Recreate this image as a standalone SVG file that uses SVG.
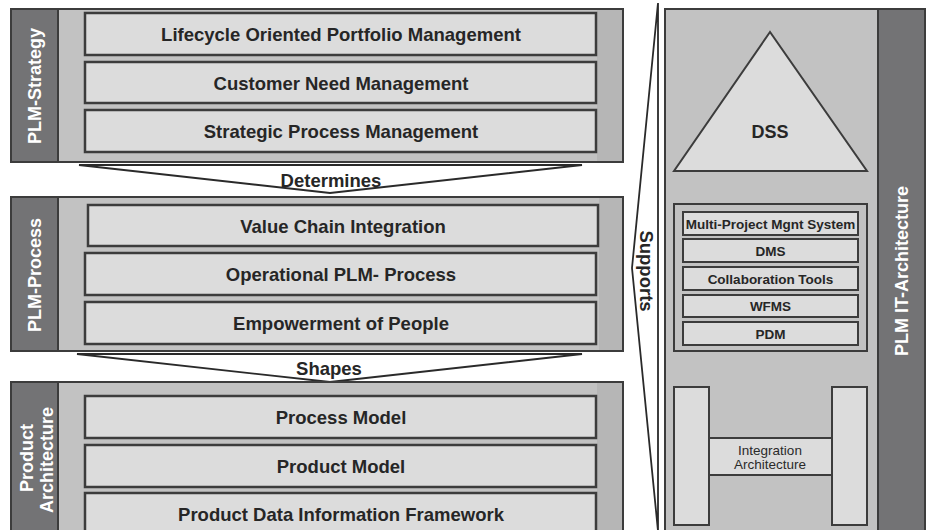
<svg xmlns="http://www.w3.org/2000/svg" width="927" height="530" viewBox="0 0 927 530">
  <style>
    .blk { fill: #c2c2c2; stroke: #3c3c3c; stroke-width: 2; }
    .side { fill: #b6b6b6; }
    .col { fill: #737375; stroke: #3c3c3c; stroke-width: 2; }
    .box { fill: #dcdcdc; stroke: #3c3c3c; stroke-width: 2.5; }
    .sbox { fill: #dcdcdc; stroke: #3c3c3c; stroke-width: 2; }
    .chev { fill: #ffffff; stroke: #2a2a2a; stroke-width: 1.8; stroke-linejoin: miter; }
    .t { font-family: "Liberation Sans", Arial, sans-serif; font-weight: bold; fill: #262626; text-anchor: middle; }
    .big { font-size: 18.5px; }
    .small { font-size: 13.5px; }
    .lbl { font-family: "Liberation Sans", Arial, sans-serif; font-weight: bold; fill: #ffffff; text-anchor: middle; font-size: 18px; }
    .ia { font-family: "Liberation Sans", Arial, sans-serif; font-size: 13.5px; fill: #2a2a2a; text-anchor: middle; }
  </style>

  <rect width="927" height="530" fill="#ffffff"/>

  <!-- connectors: the three funnel-shaped relation labels -->
  <g id="connectors">
    <g id="determines">
      <polygon class="chev" points="79,165 582,165 330,193"/>
      <text class="t big" x="331" y="187">Determines</text>
    </g>
    <g id="shapes">
      <polygon class="chev" points="77,354 582,354 330,382"/>
      <text class="t big" x="329" y="375">Shapes</text>
    </g>
    <g id="supports">
      <polygon class="chev" points="658,3 632,268 658,531"/>
      <text class="t big" transform="translate(640,271) rotate(90)">Supports</text>
    </g>
  </g>

  <!-- PLM-Strategy layer -->
  <g id="plm-strategy">
    <rect class="blk" x="11" y="9" width="612" height="153"/>
    <rect class="side" x="597" y="10" width="25" height="151"/>
    <rect class="col" x="11" y="9" width="47" height="153"/>
    <text class="lbl" transform="translate(41,86) rotate(-90)">PLM-Strategy</text>
    <rect class="box" x="85" y="13" width="511" height="42"/>
    <text class="t big" x="341" y="41">Lifecycle Oriented Portfolio Management</text>
    <rect class="box" x="85" y="62" width="511" height="41"/>
    <text class="t big" x="341" y="89.5">Customer Need Management</text>
    <rect class="box" x="85" y="110" width="511" height="42"/>
    <text class="t big" x="341" y="138">Strategic Process Management</text>
  </g>

  <!-- PLM-Process layer -->
  <g id="plm-process">
    <rect class="blk" x="11" y="197" width="612" height="154"/>
    <rect class="side" x="599" y="198" width="23" height="152"/>
    <rect class="col" x="11" y="197" width="47" height="154"/>
    <text class="lbl" transform="translate(41,275) rotate(-90)">PLM-Process</text>
    <rect class="box" x="88" y="205" width="510" height="41"/>
    <text class="t big" x="343" y="232.5">Value Chain Integration</text>
    <rect class="box" x="85" y="253" width="511" height="42"/>
    <text class="t big" x="341" y="281">Operational PLM- Process</text>
    <rect class="box" x="85" y="302" width="511" height="42"/>
    <text class="t big" x="341" y="330">Empowerment of People</text>
  </g>

  <!-- Product Architecture layer -->
  <g id="product-architecture">
    <rect class="blk" x="11" y="382" width="612" height="160"/>
    <rect class="side" x="597" y="383" width="25" height="150"/>
    <rect class="col" x="11" y="382" width="47" height="160"/>
    <text class="lbl" transform="translate(32.5,458) rotate(-90)">Product</text>
    <text class="lbl" transform="translate(53,460) rotate(-90)">Architecture</text>
    <rect class="box" x="85" y="396" width="511" height="42"/>
    <text class="t big" x="341" y="424">Process Model</text>
    <rect class="box" x="85" y="445" width="511" height="42"/>
    <text class="t big" x="341" y="473">Product Model</text>
    <rect class="box" x="85" y="493" width="511" height="50"/>
    <text class="t big" x="341" y="521">Product Data Information Framework</text>
  </g>

  <!-- PLM IT-Architecture column -->
  <g id="plm-it-architecture">
    <rect class="blk" x="665" y="9" width="260" height="533"/>
    <rect class="col" x="878" y="9" width="47" height="533"/>
    <text class="lbl" font-size="17.5" transform="translate(908,271) rotate(-90)">PLM IT-Architecture</text>
  </g>

  <g id="dss">
    <polygon points="770,32 674,171 867,171" fill="#dcdcdc" stroke="#3c3c3c" stroke-width="2"/>
    <text class="t" font-size="18" x="770" y="138">DSS</text>
  </g>

  <g id="it-systems">
    <rect x="674" y="204" width="193" height="147" fill="#c2c2c2" stroke="#3c3c3c" stroke-width="2"/>
    <rect class="sbox" x="683" y="212" width="175" height="23"/>
    <text class="t small" x="770.5" y="228.5">Multi-Project Mgnt System</text>
    <rect class="sbox" x="683" y="239" width="175" height="23"/>
    <text class="t small" x="770.5" y="255.5">DMS</text>
    <rect class="sbox" x="683" y="267" width="175" height="23"/>
    <text class="t small" x="770.5" y="283.5">Collaboration Tools</text>
    <rect class="sbox" x="683" y="295" width="175" height="22"/>
    <text class="t small" x="770.5" y="311">WFMS</text>
    <rect class="sbox" x="683" y="322" width="175" height="23"/>
    <text class="t small" x="770.5" y="338.5">PDM</text>
  </g>

  <g id="integration-architecture">
    <rect x="709" y="438" width="123" height="37" fill="#dcdcdc" stroke="#3c3c3c" stroke-width="2"/>
    <rect x="674" y="387" width="35" height="138" fill="#dcdcdc" stroke="#3c3c3c" stroke-width="2"/>
    <rect x="832" y="387" width="35" height="138" fill="#dcdcdc" stroke="#3c3c3c" stroke-width="2"/>
    <text class="ia" x="770" y="455">Integration</text>
    <text class="ia" x="770" y="469">Architecture</text>
  </g>
</svg>
